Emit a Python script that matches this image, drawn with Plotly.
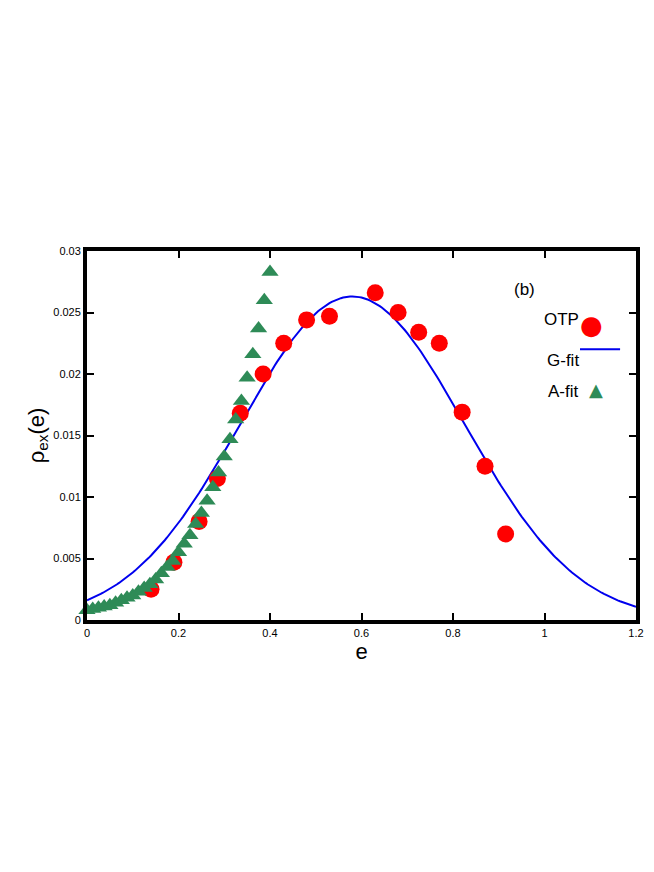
import numpy as np
import plotly.graph_objects as go

# OTP data points
otp_e = [0.14, 0.19, 0.245, 0.285, 0.335, 0.385, 0.43, 0.48, 0.53, 0.63, 0.68, 0.725, 0.77, 0.82, 0.87, 0.915]
otp_rho = [0.0025, 0.0047, 0.0080, 0.0115, 0.0168, 0.0200, 0.0225, 0.0244, 0.0247, 0.0266, 0.0250, 0.0234, 0.0225, 0.0169, 0.0125, 0.0070]

# A-fit points
afit_e = [0.0, 0.0125, 0.025, 0.0375, 0.05, 0.0625, 0.075, 0.0875, 0.1, 0.1125, 0.125, 0.1375,
          0.15, 0.1625, 0.175, 0.1875, 0.2, 0.2125, 0.225, 0.2375, 0.25, 0.2625, 0.275, 0.2875,
          0.3, 0.3125, 0.325, 0.3375, 0.35, 0.3625, 0.375, 0.3875, 0.4]
afit_rho = [0.0008, 0.0009, 0.0010, 0.0011, 0.0012, 0.0014, 0.0016, 0.0018, 0.0020, 0.0023, 0.0026, 0.0029,
            0.0033, 0.0038, 0.0043, 0.0048, 0.0055, 0.0062, 0.0069, 0.0078, 0.0087, 0.0097, 0.0108, 0.0120,
            0.0133, 0.0147, 0.0163, 0.0178, 0.0197, 0.0216, 0.0237, 0.0260, 0.0283]

# G-fit (gaussian) parameters
g_amp = 0.0263
g_mu = 0.58
g_sigma = 0.245
g_e = np.linspace(0, 1.2, 241)
g_rho = g_amp * np.exp(-(g_e - g_mu) ** 2 / (2 * g_sigma ** 2))

fig = go.Figure()
fig.add_trace(go.Scatter(x=g_e, y=g_rho, mode='lines', line=dict(color='#0000ee', width=2)))
fig.add_trace(go.Scatter(x=otp_e, y=otp_rho, mode='markers',
                         marker=dict(color='#ff0000', size=17, symbol='circle')))
fig.add_trace(go.Scatter(x=afit_e, y=afit_rho, mode='markers', cliponaxis=False,
                         marker=dict(color='#2e8b57', size=15, symbol='triangle-up')))

ax = dict(showline=True, linecolor='black', linewidth=4, mirror='ticks', ticks='inside',
          ticklen=7, tickwidth=2, tickcolor='black', showgrid=False, zeroline=False, automargin=False,
          tickfont=dict(family='Liberation Sans', size=11, color='black'))
fig.update_xaxes(range=[0, 1.2], tickvals=[0, 0.2, 0.4, 0.6, 0.8, 1, 1.2],
                 ticktext=['0', '0.2', '0.4', '0.6', '0.8', '1', '1.2'],
                 title=dict(text='e', font=dict(family='Liberation Sans', size=22, color='black'), standoff=2), **ax)
fig.update_yaxes(range=[0, 0.03], tickvals=[0, 0.005, 0.01, 0.015, 0.02, 0.025, 0.03],
                 ticktext=['0', '0.005', '0.01', '0.015', '0.02', '0.025', '0.03'],
                 title=dict(text='ρ<sub>ex</sub>(e)', font=dict(family='Liberation Sans', size=22, color='black'), standoff=4), **ax)

font = dict(family='Liberation Sans', size=17, color='black')
ann = [
    dict(x=0.82, y=0.927, text='(b)', showarrow=False, xref='paper', yref='paper', font=font),
    dict(x=0.90, y=0.846, text='OTP', showarrow=False, xref='paper', yref='paper', xanchor='right', font=font),
    dict(x=0.90, y=0.734, text='G-fit', showarrow=False, xref='paper', yref='paper', xanchor='right', font=font),
    dict(x=0.90, y=0.62, text='A-fit', showarrow=False, xref='paper', yref='paper', xanchor='right', font=font),
    dict(x=0.943, y=0.846, text='●', showarrow=False, xref='paper', yref='paper',
         font=dict(family='DejaVu Sans', size=26, color='#ff0000')),
    dict(x=0.943, y=0.625, text='▲', showarrow=False, xref='paper', yref='paper',
         font=dict(family='DejaVu Sans', size=18, color='#2e8b57')),
]
fig.update_layout(
    width=654, height=872, showlegend=False,
    plot_bgcolor='white', paper_bgcolor='white',
    margin=dict(l=79, r=26, t=243, b=260),
    annotations=ann,
    shapes=[dict(type='line', xref='paper', yref='paper', x0=0.898, x1=0.971, y0=0.734, y1=0.734,
                 line=dict(color='#0000ee', width=2))],
)
fig.write_html("out.html")
